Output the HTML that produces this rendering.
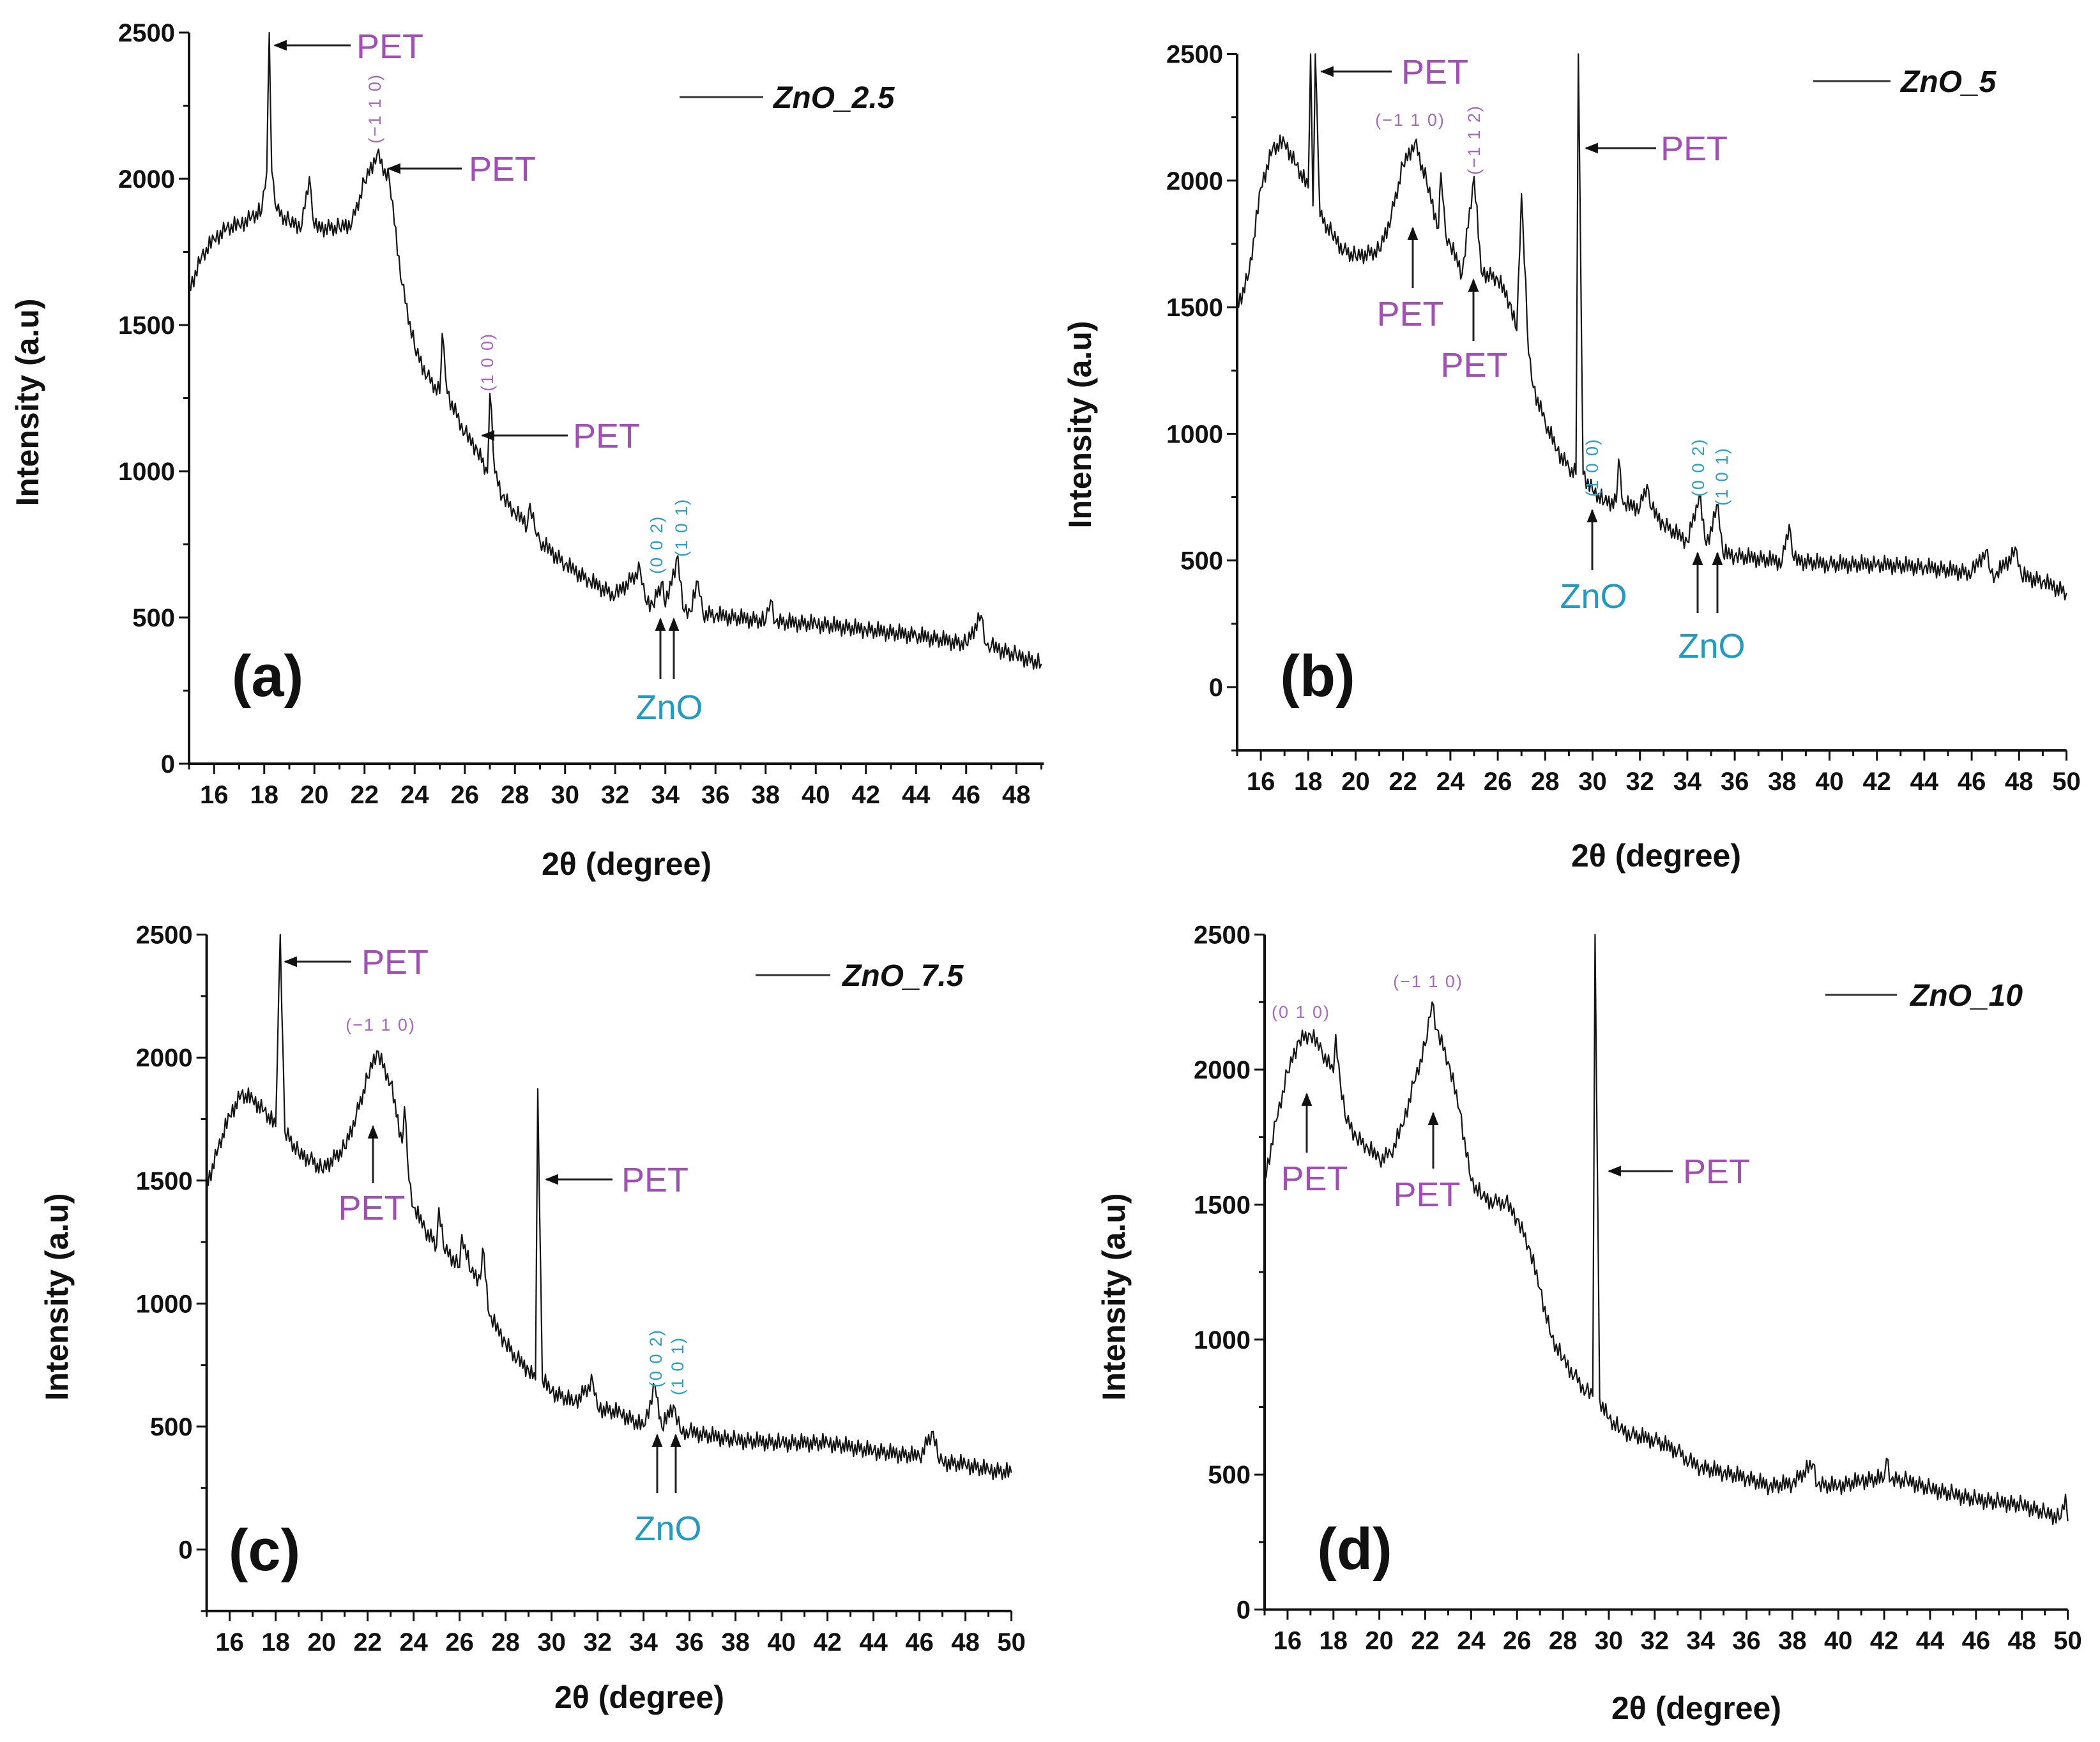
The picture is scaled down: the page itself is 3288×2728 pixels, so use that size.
<!DOCTYPE html>
<html><head><meta charset="utf-8"><style>
html,body{margin:0;padding:0;background:#fff}
svg{display:block}
text{font-family:"Liberation Sans",sans-serif}
.tk{font-size:40px;font-weight:bold;fill:#111}
.ttl{font-size:50px;font-weight:bold;fill:#111}
.pet{font-size:54px;fill:#a14fb5}
.zno{font-size:54px;fill:#1f9bc4}
.hklp{font-size:27px;fill:#a868c0;letter-spacing:2px}
.hklz{font-size:27px;fill:#2aa0c8;letter-spacing:2px}
.lab{font-size:92px;font-weight:bold;fill:#111}
.leg{font-size:48px;font-weight:bold;font-style:italic;fill:#111}
</style></head><body>
<svg id="fig" width="3288" height="2728" viewBox="0 0 3288 2728" xmlns="http://www.w3.org/2000/svg">
<defs><marker id="ah" viewBox="0 0 10 10" refX="9" refY="5" markerWidth="7" markerHeight="7" orient="auto"><path d="M0,1 L10,5 L0,9 z" fill="#111"/></marker></defs>
<g id="layer"></g>
</svg>
<script>
// Panel (a) ZnO_2.5
const degA=[15,15.5,16,16.5,17,17.5,17.9,18.1,18.2,18.3,18.5,19,19.5,19.8,20,21,21.5,22,22.5,23,23.5,24,24.5,25,25.1,25.3,26,26.5,26.9,27,27.2,27.5,28,28.5,28.6,28.8,29,30,31,32,33,33.2,33.5,33.9,34,34.5,34.7,35,35.3,35.5,36,38,38.2,38.4,40,42,44,46,46.6,46.8,47,48,49];
const intA=[1617,1734,1793,1832,1841,1870,1890,2026,2500,2026,1890,1851,1840,2007,1832,1832,1850,1988,2085,1990,1637,1422,1325,1266,1471,1266,1130,1072,994,1266,994,916,857,818,890,800,760,682,623,575,662,560,545,623,536,711,530,520,623,515,507,487,560,485,477,458,438,409,507,405,400,370,341];
// Panel (b) ZnO_5
const degB=[15,15.5,16,16.5,17,17.5,18,18.1,18.2,18.3,18.5,19,19.5,20,21,21.5,22,22.5,23,23.5,23.6,23.8,24,24.5,25,25.3,26,26.5,26.8,27,27.3,27.5,28,28.5,29,29.3,29.4,29.6,30,30.5,31,31.1,31.3,32,32.3,32.5,33,34,34.5,34.8,35.3,35.5,36,38,38.3,38.5,40,42,44,46,46.6,46.8,47,47.9,48.1,49,50];
const intB=[1498,1633,1971,2128,2150,2061,1971,2500,1900,2500,1858,1790,1723,1700,1723,1858,2061,2150,1993,1813,2030,1790,1745,1633,2016,1640,1610,1520,1408,1948,1317,1182,1047,935,867,840,2500,840,777,732,730,900,720,709,800,700,642,574,754,560,720,529,518,495,642,500,484,484,473,450,540,450,440,540,439,417,372];
// Panel (c) ZnO_7.5
const degC=[15,15.5,16,16.5,17,17.5,18,18.2,18.4,19,19.5,20,21,21.5,22,22.4,23,23.5,23.6,23.8,24,24.5,25,25.1,25.3,26,26.1,26.5,26.9,27,27.3,28,28.5,29,29.3,29.4,29.6,30,31,31.8,32,33,34,34.5,34.8,35.3,35.6,36,38,40,42,44,46,46.6,46.8,47,48,49,50];
const intC=[1478,1632,1763,1851,1829,1785,1720,2500,1700,1609,1587,1544,1632,1763,1917,2027,1895,1653,1800,1500,1390,1302,1236,1390,1230,1148,1280,1126,1100,1225,950,840,774,730,690,1873,690,642,598,680,576,554,499,664,495,587,480,477,444,433,433,400,378,480,375,356,345,323,312];
// Panel (d) ZnO_10
const degD=[15,15.5,16,16.5,17,17.5,18,18.1,18.3,18.5,19,19.5,20,20.5,21,21.5,22,22.3,22.5,23,23.5,24,24.5,25,25.5,26,26.5,27,27.5,28,28.5,29,29.3,29.4,29.6,30,30.5,31,32,33,33.5,34,35,36,37,38,38.9,39.1,40,41,42,42.1,42.3,43,44,45,46,47,48,49,49.7,49.9,50];
const intD=[1588,1809,1989,2109,2129,2069,1989,2130,1950,1829,1749,1709,1669,1689,1789,1949,2089,2250,2149,2029,1849,1588,1528,1508,1508,1448,1348,1188,1008,928,867,807,790,2500,780,707,667,647,627,587,547,527,507,487,457,467,540,462,457,477,487,560,480,477,447,427,407,397,387,357,340,427,327];
const yTicks=[0,500,1000,1500,2000,2500];

const NS='http://www.w3.org/2000/svg';
const layer=document.getElementById('layer');
const jit=[6,-9,14,-5,10,-13,4,-8,12,-4,9,-15,7,-10];
function mk(tag,attrs,parent){const e=document.createElementNS(NS,tag);for(const k in attrs)e.setAttribute(k,attrs[k]);(parent||layer).appendChild(e);return e;}
function txt(s,x,y,cls,extra,parent){const t=mk('text',Object.assign({x:x,y:y,class:cls},extra||{}),parent);t.textContent=s;return t;}

function panel(cfg,degs,ints){
  const g=mk('g',{});
  
  
  const sx=d=>cfg.x0+(d-cfg.dmin)*cfg.pxDeg;
  const sy=v=>cfg.yZero-v*cfg.px500/500;
  const xEnd=sx(cfg.dmax), yBot=sy(cfg.vmin), yTop=sy(2500);
  const ax=mk('path',{d:`M${cfg.x0},${yTop} L${cfg.x0},${yBot} L${xEnd},${yBot}`,fill:'none',stroke:'#111','stroke-width':4},g);
  
  
  for(let v=Math.ceil(cfg.vmin/250)*250;v<=2500;v+=250){
    const major=v%500===0;
    mk('line',{x1:cfg.x0-(major?16:9),x2:cfg.x0,y1:sy(v),y2:sy(v),stroke:'#111','stroke-width':3},g);
  }
  yTicks.forEach(v=>{
    const t=txt(String(v),cfg.x0-22,sy(v)+14,'tk',{'text-anchor':'end'},g);
    
    
  });
  for(let d=Math.ceil(cfg.dmin);d<=cfg.dmax;d++){
    const major=d%2===0;
    mk('line',{x1:sx(d),x2:sx(d),y1:yBot,y2:yBot+(major?16:9),stroke:'#111','stroke-width':3},g);
    if(major){
      const t=txt(String(d),sx(d),yBot+62,'tk',{'text-anchor':'middle'},g);
      
      
    }
  }
  let pts=[]; let c=0;
  for(let i=0;i<degs.length;i++){
    const X=sx(degs[i]),Y=sy(ints[i]);
    if(i===0){pts.push([X,Y]);continue;}
    const pX=sx(degs[i-1]),pY=sy(ints[i-1]);
    const n=Math.max(1,Math.round((X-pX)/2.4));
    for(let k=1;k<=n;k++){
      const f=k/n; const off=(k<n)?jit[(c++)%jit.length]:0;
      pts.push([pX+(X-pX)*f,pY+(Y-pY)*f+off]);
    }
  }
  const line=mk('path',{d:'M'+pts.map(p=>p[0].toFixed(1)+','+p[1].toFixed(1)).join(' L'),fill:'none',stroke:'#151515','stroke-width':2.2,'stroke-linejoin':'round'},g);
  
  
  const xt=txt('2θ (degree)',cfg.xt[0],cfg.xt[1],'ttl',{'text-anchor':'middle'},g);
  
  
  const yt=txt('Intensity (a.u)',0,0,'ttl',{'text-anchor':'middle',transform:`translate(${cfg.yt[0]},${cfg.yt[1]}) rotate(-90)`},g);
  
  
  const lg=mk('line',{x1:cfg.leg[0],x2:cfg.leg[1],y1:cfg.leg[2],y2:cfg.leg[2],stroke:'#333','stroke-width':3},g);
  
  
  const lt=txt(cfg.legText,cfg.leg[3],cfg.leg[2]+17,'leg',{},g);
  
  
  const pl=txt(cfg.lab,cfg.labPos[0],cfg.labPos[1]+32,'lab',{'text-anchor':'middle'},g);
  
  
  return g;
}
function harrow(x1,x2,y){const a=mk('line',{x1:x1,x2:x2,y1:y,y2:y,stroke:'#222','stroke-width':3,'marker-end':'url(#ah)'});}
function varrow(x,y1,y2){const a=mk('line',{x1:x,x2:x,y1:y1,y2:y2,stroke:'#222','stroke-width':3,'marker-end':'url(#ah)'});}
function lab(s,x,y,cls,anchor){const t=txt(s,x,y,cls,{'text-anchor':anchor||'start'});}
function hkl(s,x,y,cls,rot){const t=txt(s,0,0,cls,{'text-anchor':'middle',transform:`translate(${x},${y})`+(rot?' rotate(-90)':'')});}

panel({id:'a',x0:296,dmin:15,dmax:49.1,pxDeg:39.25,yZero:1196,px500:229,vmin:0,xt:[981,1370],yt:[60,630],leg:[1064,1195,152,1211],legText:'ZnO_2.5',lab:'(a)',labPos:[419,1058]},degA,intA);
panel({id:'b',x0:1937,dmin:15,dmax:50,pxDeg:37.1,yZero:1076,px500:198.3,vmin:-250,xt:[2593,1357],yt:[1708,665],leg:[2839,2960,127,2976],legText:'ZnO_5',lab:'(b)',labPos:[2063,1058]},degB,intB);
panel({id:'c',x0:323.6,dmin:15,dmax:50,pxDeg:36.0,yZero:2426.6,px500:192.6,vmin:-250,xt:[1001,2675],yt:[106,2031],leg:[1183,1300,1527,1319],legText:'ZnO_7.5',lab:'(c)',labPos:[414,2427]},degC,intC);
panel({id:'d',x0:1980,dmin:15,dmax:50,pxDeg:35.93,yZero:2520.6,px500:211.4,vmin:0,xt:[2656,2692],yt:[1761,2031],leg:[2858,2970,1558,2991],legText:'ZnO_10',lab:'(d)',labPos:[2121,2425]},degD,intD);

harrow(549,430,71); lab('PET',558,91,'pet');
hkl('(−1 1 0)',596,170,'hklp',true);
harrow(723,608,264); lab('PET',734,283,'pet');
hkl('(1 0 0)',772,567,'hklp',true);
harrow(889,755,682); lab('PET',897,701,'pet');
hkl('(0 0 2)',1037,853,'hklz',true); hkl('(1 0 1)',1076,826,'hklz',true);
varrow(1034,1063,969); varrow(1055,1063,969);
lab('ZnO',1048,1126,'zno','middle');
harrow(2179,2069,112); lab('PET',2194,131,'pet');
hkl('(−1 1 0)',2208,197,'hklp',false);
hkl('(−1 1 2)',2317,219,'hklp',true);
harrow(2593,2483,232); lab('PET',2600,251,'pet');
varrow(2212,451,357); lab('PET',2208,510,'pet','middle');
varrow(2307,534,438); lab('PET',2308,590,'pet','middle');
hkl('(1 0 0)',2502,732,'hklz',true);
varrow(2493,893,799); lab('ZnO',2495,952,'zno','middle');
hkl('(0 0 2)',2668,732,'hklz',true); hkl('(1 0 1)',2705,746,'hklz',true);
varrow(2658,960,866); varrow(2689,960,866);
lab('ZnO',2680,1030,'zno','middle');
harrow(550,446,1506); lab('PET',566,1525,'pet');
hkl('(−1 1 0)',596,1614,'hklp',false);
varrow(584,1853,1764); lab('PET',582,1910,'pet','middle');
harrow(959,855,1847); lab('PET',973,1866,'pet');
hkl('(0 0 2)',1036,2127,'hklz',true); hkl('(1 0 1)',1070,2139,'hklz',true);
varrow(1029,2338,2247); varrow(1058,2338,2247);
lab('ZnO',1046,2412,'zno','middle');
hkl('(0 1 0)',2037,1594,'hklp',false);
hkl('(−1 1 0)',2236,1546,'hklp',false);
varrow(2046,1805,1713); lab('PET',2058,1864,'pet','middle');
varrow(2244,1830,1743); lab('PET',2234,1889,'pet','middle');
harrow(2619,2519,1834); lab('PET',2635,1853,'pet');
</script>
</body></html>
